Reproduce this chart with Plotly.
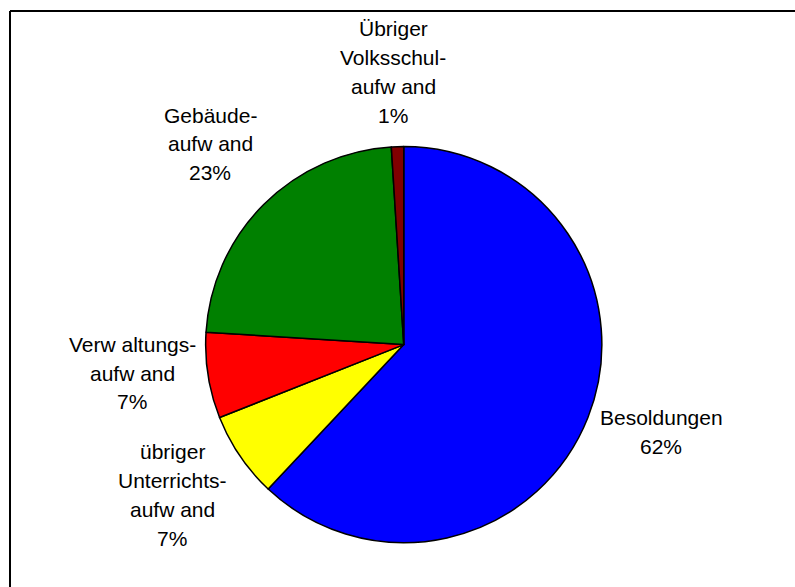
import plotly.graph_objects as go

# Expenditure shares (percent), in clockwise order starting at 12 o'clock
categories = [
    "Besoldungen",
    "übriger Unterrichtsaufwand",
    "Verwaltungsaufwand",
    "Gebäudeaufwand",
    "Übriger Volksschulaufwand",
]
shares = [62, 7, 7, 23, 1]

# Label text lines as printed next to each slice (percentage line appended below)
label_lines = [
    ["Besoldungen"],
    ["übriger", "Unterrichts-", "aufw and"],
    ["Verw altungs-", "aufw and"],
    ["Gebäude-", "aufw and"],
    ["Übriger", "Volksschul-", "aufw and"],
]

slice_colors = ["#0000FF", "#FFFF00", "#FF0000", "#008000", "#800000"]

W, H = 795, 587
FONT = "Arial, Liberation Sans, sans-serif"
FONT_SIZE = 21
LINE_GAP = 28.7  # px between label lines

# Centre of each label block, in pixels from the top-left corner
label_centers = [(661, 432), (172, 495), (132, 373), (210, 144), (393, 72)]

fig = go.Figure(
    go.Pie(
        labels=categories,
        values=shares,
        sort=False,
        direction="clockwise",
        rotation=0,
        marker=dict(colors=slice_colors, line=dict(color="black", width=1.5)),
        textinfo="none",
        hoverinfo="label+percent",
        showlegend=False,
        domain=dict(x=[205.5 / W, 602 / W], y=[1 - 542.7 / H, 1 - 146.5 / H]),
    )
)

total = sum(shares)
annotations = []
for lines, value, (cx, cy) in zip(label_lines, shares, label_centers):
    block = lines + [f"{round(value / total * 100)}%"]
    n = len(block)
    for i, line in enumerate(block):
        ypx = cy + (i - (n - 1) / 2) * LINE_GAP
        annotations.append(
            dict(
                text=line,
                x=cx / W,
                y=1 - ypx / H,
                xref="paper",
                yref="paper",
                xanchor="center",
                yanchor="middle",
                showarrow=False,
                font=dict(family=FONT, size=FONT_SIZE, color="black"),
            )
        )

# Chart-area border (top and left edges)
frame_y = 1 - 11 / H
frame_x = 10 / W
shapes = [
    dict(type="line", xref="paper", yref="paper", x0=frame_x, y0=frame_y, x1=1.0, y1=frame_y,
         line=dict(color="black", width=2)),
    dict(type="line", xref="paper", yref="paper", x0=frame_x, y0=frame_y, x1=frame_x, y1=0,
         line=dict(color="black", width=2)),
]

fig.update_layout(
    width=W,
    height=H,
    margin=dict(l=0, r=0, t=0, b=0),
    paper_bgcolor="white",
    plot_bgcolor="white",
    annotations=annotations,
    shapes=shapes,
    font=dict(family=FONT, size=FONT_SIZE, color="black"),
)

fig.write_html("out.html")
